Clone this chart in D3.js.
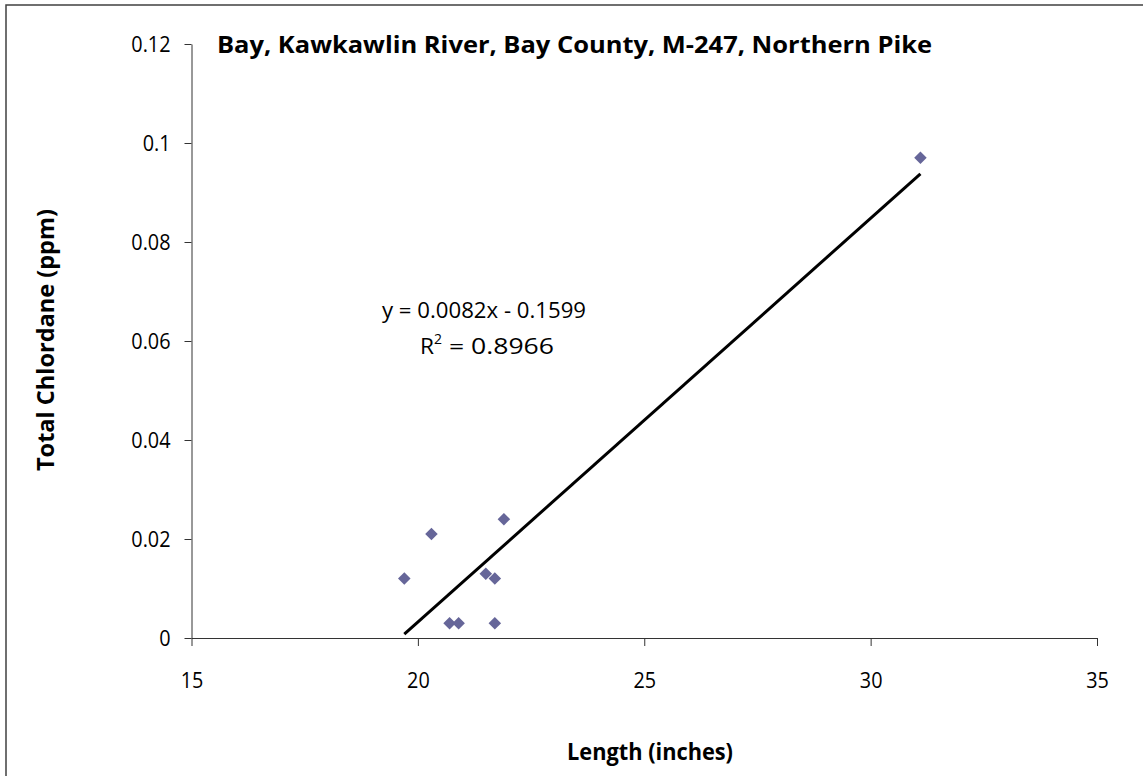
<!DOCTYPE html>
<html>
<head>
<meta charset="utf-8">
<script src="https://cdn.jsdelivr.net/npm/d3@7/dist/d3.min.js"></script>
<style>
  html, body { margin: 0; padding: 0; background: #fff; }
  svg { display: block; }
  text { font-family: "Open Sans", "DejaVu Sans", sans-serif; fill: #000; }
</style>
</head>
<body>
<svg id="chart" width="1143" height="776"></svg>
<script>
// ---- data ----
const lengths   = [19.7, 20.3, 20.7, 20.9, 21.5, 21.7, 21.7, 21.9, 31.1];
const chlordane = [0.012, 0.021, 0.003, 0.003, 0.013, 0.012, 0.003, 0.024, 0.097];
const xTicks = [15, 20, 25, 30, 35];
const yTicks = [0, 0.02, 0.04, 0.06, 0.08, 0.1, 0.12];
const yTickLabels = ["0", "0.02", "0.04", "0.06", "0.08", "0.1", "0.12"];
const titleText = "Bay, Kawkawlin River, Bay County, M-247, Northern Pike";
const xTitle = "Length (inches)";
const yTitle = "Total Chlordane (ppm)";
const eqText = "y = 0.0082x - 0.1599";
const r2Value = "0.8966";

const svg = d3.select("#chart");

// outer chart border (only top/left visible in frame)
svg.append("rect")
  .attr("x", 6).attr("y", 5).attr("width", 1200).attr("height", 800)
  .attr("fill", "none").attr("stroke", "#404040").attr("stroke-width", 1.5);

const x = d3.scaleLinear().domain([15, 35]).range([191.5, 1097]);
const y = d3.scaleLinear().domain([0, 0.12]).range([638, 44]);

// squeeze text horizontally (Calibri-like proportions)
function squeeze(sel, factor) {
  const w = sel.node().getComputedTextLength();
  sel.attr("textLength", w * factor).attr("lengthAdjust", "spacingAndGlyphs");
}
function fitLen(sel, target) {
  sel.attr("textLength", target).attr("lengthAdjust", "spacingAndGlyphs");
}

// axes
const xAxis = d3.axisBottom(x).tickValues(xTicks).tickSize(8).tickSizeOuter(0).tickFormat(d3.format("d"));
const gx = svg.append("g").attr("transform", `translate(0,${y(0)})`).call(xAxis);
gx.select(".domain").attr("stroke", "#333").attr("stroke-width", 1);
gx.selectAll(".tick line").attr("stroke", "#333");
gx.selectAll(".tick text").attr("font-size", 22).attr("font-family", "Open Sans")
  .attr("fill", "#000").attr("y", 50).attr("dy", 0)
  .each(function() { squeeze(d3.select(this), 0.9); });

const yAxis = d3.axisLeft(y).tickValues(yTicks).tickSize(7).tickSizeOuter(0)
  .tickFormat((d, i) => yTickLabels[i]);
const gy = svg.append("g").attr("transform", `translate(${x(15)},0)`).call(yAxis);
gy.select(".domain").attr("stroke", "#333").attr("stroke-width", 1);
gy.selectAll(".tick line").attr("stroke", "#333");
gy.selectAll(".tick text").attr("font-size", 22).attr("font-family", "Open Sans")
  .attr("fill", "#000").attr("x", -21).attr("dy", "0.36em")
  .each(function() { squeeze(d3.select(this), 0.9); });

// trendline (least squares from data)
const n = lengths.length;
const mx = d3.mean(lengths), my = d3.mean(chlordane);
let sxy = 0, sxx = 0;
for (let i = 0; i < n; i++) { sxy += (lengths[i]-mx)*(chlordane[i]-my); sxx += (lengths[i]-mx)**2; }
const slope = sxy / sxx, icpt = my - slope * mx;
const x0 = d3.min(lengths), x1 = d3.max(lengths);
svg.append("line")
  .attr("x1", x(x0)).attr("y1", y(slope*x0+icpt))
  .attr("x2", x(x1)).attr("y2", y(slope*x1+icpt))
  .attr("stroke", "#000").attr("stroke-width", 3);

// points
const sym = d3.symbol().type(d3.symbolDiamond2).size(100);
svg.append("g").selectAll("path").data(lengths.map((v, i) => [v, chlordane[i]]))
  .join("path")
  .attr("d", sym)
  .attr("transform", d => `translate(${x(d[0])},${y(d[1])})`)
  .attr("fill", "#666699");

// title
const t = svg.append("text").attr("x", 217).attr("y", 53)
  .attr("font-size", 24).attr("font-weight", "bold").text(titleText);
fitLen(t, 715);

// axis titles
const xt = svg.append("text").attr("x", 650).attr("y", 760).attr("text-anchor", "middle")
  .attr("font-size", 23).attr("font-weight", "bold").text(xTitle);
fitLen(xt, 166);
const yt = svg.append("text").attr("transform", "translate(54,340) rotate(-90)")
  .attr("text-anchor", "middle")
  .attr("font-size", 23).attr("font-weight", "bold").text(yTitle);
fitLen(yt, 262);

// equation
const eq = svg.append("text").attr("x", 382).attr("y", 318).attr("font-size", 22).text(eqText);
fitLen(eq, 204);
const r2 = svg.append("text").attr("x", 420).attr("y", 354).attr("font-size", 22);
r2.append("tspan").attr("textLength", 14).attr("lengthAdjust", "spacingAndGlyphs").text("R");
r2.append("tspan").attr("font-size", 14).attr("dy", -10).text("2");
r2.append("tspan").attr("dy", 10).attr("textLength", 112).attr("lengthAdjust", "spacingAndGlyphs").text(" = " + r2Value);
</script>
</body>
</html>
